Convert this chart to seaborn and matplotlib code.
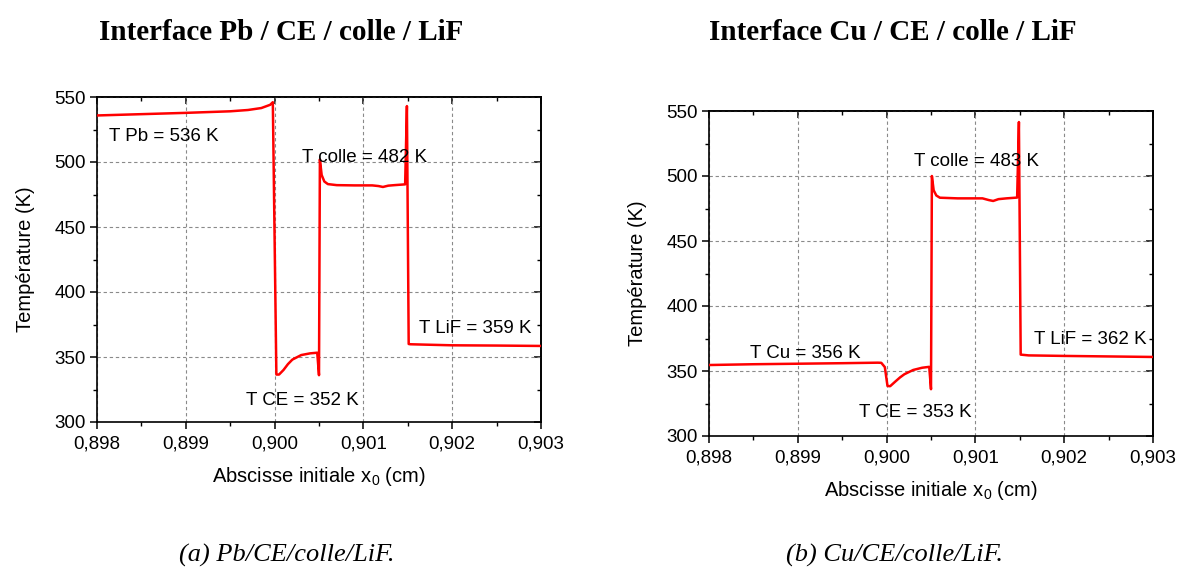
import matplotlib
matplotlib.use("Agg")
import matplotlib.pyplot as plt
from matplotlib.ticker import MultipleLocator, FuncFormatter
import seaborn as sns
import pandas as pd

# ---------------- data ----------------
x_pb = [0.89800, 0.89850, 0.89900, 0.89950, 0.89970, 0.89985, 0.89995, 0.89998,
        0.90002, 0.90005, 0.90010, 0.90015, 0.90020, 0.90030, 0.90040, 0.90048,
        0.90050, 0.90051, 0.90053, 0.90056, 0.90060, 0.90070, 0.90090, 0.90110,
        0.90117, 0.90122, 0.90128, 0.90135, 0.90147, 0.90149, 0.90151, 0.90153,
        0.90170, 0.90200, 0.90250, 0.90300]
t_pb = [535.8, 536.8, 537.8, 539.0, 540.0, 541.5, 544.0, 546.0,
        336.5, 336.5, 340.0, 344.5, 348.0, 351.5, 352.8, 353.3,
        336.0, 502.0, 490.0, 485.0, 483.0, 482.2, 482.0, 482.0,
        481.5, 480.8, 481.8, 482.2, 482.8, 543.0, 360.0, 359.8,
        359.5, 359.0, 358.8, 358.5]

x_cu = [0.89800, 0.89850, 0.89900, 0.89950, 0.89990, 0.89994, 0.89998, 0.90001,
        0.90004, 0.90010, 0.90015, 0.90020, 0.90030, 0.90040, 0.90048, 0.90050,
        0.90051, 0.90053, 0.90056, 0.90060, 0.90080, 0.90108, 0.90115, 0.90120,
        0.90126, 0.90135, 0.90147, 0.90149, 0.90151, 0.90160, 0.90200, 0.90250,
        0.90300]
t_cu = [354.6, 355.2, 355.6, 356.0, 356.4, 356.3, 353.0, 338.5,
        338.3, 342.0, 345.0, 347.5, 350.8, 352.5, 353.2, 336.0,
        500.0, 489.0, 485.0, 483.3, 482.8, 482.8, 481.5, 480.8,
        482.2, 482.8, 483.4, 541.5, 362.6, 362.0, 361.6, 361.2,
        360.8]

titles = ["Interface Pb / CE / colle / LiF", "Interface Cu / CE / colle / LiF"]
captions = ["(a) Pb/CE/colle/LiF.", "(b) Cu/CE/colle/LiF."]

labels_pb = ["T Pb = 536 K", "T colle = 482 K", "T CE = 352 K", "T LiF = 359 K"]
lab_x_pb = [0.898135, 0.90031, 0.899682, 0.901625]
lab_y_pb = [519.5, 503.8, 316.6, 372.3]

labels_cu = ["T Cu = 356 K", "T colle = 483 K", "T CE = 353 K", "T LiF = 362 K"]
lab_x_cu = [0.898462, 0.90031, 0.899686, 0.901655]
lab_y_cu = [363.4, 511.5, 318.0, 374.2]

x_ticks = [0.898, 0.899, 0.900, 0.901, 0.902, 0.903]
y_ticks = [300, 350, 400, 450, 500, 550]

xlabel = "Abscisse initiale x$_0$ (cm)"
ylabel = "Température (K)"

# ---------------- styling ----------------
sns.set_theme(style="white")
plt.rcParams["font.family"] = ["Liberation Sans", "DejaVu Sans"]
plt.rcParams["mathtext.fontset"] = "custom"
plt.rcParams["mathtext.rm"] = "Liberation Sans"
plt.rcParams["mathtext.it"] = "Liberation Sans"
plt.rcParams["text.color"] = "black"
plt.rcParams["axes.labelcolor"] = "black"
plt.rcParams["xtick.color"] = "black"
plt.rcParams["ytick.color"] = "black"

fig = plt.figure(figsize=(11.88, 5.70), dpi=100)
fig.patch.set_facecolor("white")

W, H = 1188.0, 570.0
axes_px = [(97, 97, 444, 325), (709, 111, 444, 325)]  # left, top, width, height
title_pos = [(281, 32), (893, 32)]
caption_pos = [(287, 555), (895, 555)]

datasets = [(x_pb, t_pb, labels_pb, lab_x_pb, lab_y_pb),
            (x_cu, t_cu, labels_cu, lab_x_cu, lab_y_cu)]

comma = FuncFormatter(lambda v, p: f"{v:.3f}".replace(".", ","))
intfmt = FuncFormatter(lambda v, p: f"{v:.0f}")

for i, (xs, ts, labs, lx, ly) in enumerate(datasets):
    l, t, w, h = axes_px[i]
    ax = fig.add_axes([l / W, 1 - (t + h) / H, w / W, h / H])
    df = pd.DataFrame({"x": xs, "T": ts})
    sns.lineplot(data=df, x="x", y="T", ax=ax, color="#ff0000", linewidth=1.8,
                 sort=False, estimator=None, zorder=3)
    ax.set_xlim(0.898, 0.903)
    ax.set_ylim(300, 550)
    ax.set_xticks(x_ticks)
    ax.set_yticks(y_ticks)
    ax.xaxis.set_minor_locator(MultipleLocator(0.0005))
    ax.yaxis.set_minor_locator(MultipleLocator(25))
    ax.xaxis.set_major_formatter(comma)
    ax.yaxis.set_major_formatter(intfmt)
    ax.tick_params(which="major", direction="out", length=5, width=1.1,
                   labelsize=13.5, colors="black", pad=3,
                   bottom=True, left=True, top=False, right=False)
    ax.tick_params(axis="x", which="major", pad=5)
    ax.tick_params(which="minor", direction="out", length=3, width=1.0,
                   bottom=True, left=True, top=False, right=False)
    for sp in ax.spines.values():
        sp.set_color("black")
        sp.set_linewidth(1.2)
    ax.grid(True, which="major", color="#8a8a8a", linestyle=(0, (3, 2.5)),
            linewidth=0.8)
    ax.set_axisbelow(True)
    ax.set_xlabel(xlabel, fontsize=14.5, labelpad=9, color="black")
    ax.set_ylabel(ylabel, fontsize=14.5, labelpad=14, color="black")

    # mirrored ticks on top / right (inward)
    secx = ax.secondary_xaxis("top")
    secx.set_xticks(x_ticks)
    secx.xaxis.set_minor_locator(MultipleLocator(0.0005))
    secx.tick_params(which="major", direction="in", length=5, width=1.1,
                     labeltop=False, colors="black")
    secx.tick_params(which="minor", direction="in", length=3, width=1.0,
                     colors="black")
    secx.spines["top"].set_linewidth(1.2)
    secx.spines["top"].set_color("black")
    secy = ax.secondary_yaxis("right")
    secy.set_yticks(y_ticks)
    secy.yaxis.set_minor_locator(MultipleLocator(25))
    secy.tick_params(which="major", direction="in", length=5, width=1.1,
                     labelright=False, colors="black")
    secy.tick_params(which="minor", direction="in", length=3, width=1.0,
                     colors="black")
    secy.spines["right"].set_linewidth(1.2)
    secy.spines["right"].set_color("black")

    for s, xx, yy in zip(labs, lx, ly):
        ax.text(xx, yy, s, fontsize=13.5, ha="left", va="center",
                color="black", zorder=4)

    tx, ty = title_pos[i]
    fig.text(tx / W, 1 - ty / H, titles[i], ha="center", va="center",
             fontsize=21, fontweight="bold", color="black",
             family=["Liberation Serif", "DejaVu Serif"])
    cx, cy = caption_pos[i]
    fig.text(cx / W, 1 - cy / H, captions[i], ha="center", va="center",
             fontsize=19, style="italic", color="black",
             family=["Liberation Serif", "DejaVu Serif"])

fig.savefig("out.png", dpi=100, facecolor="white")
